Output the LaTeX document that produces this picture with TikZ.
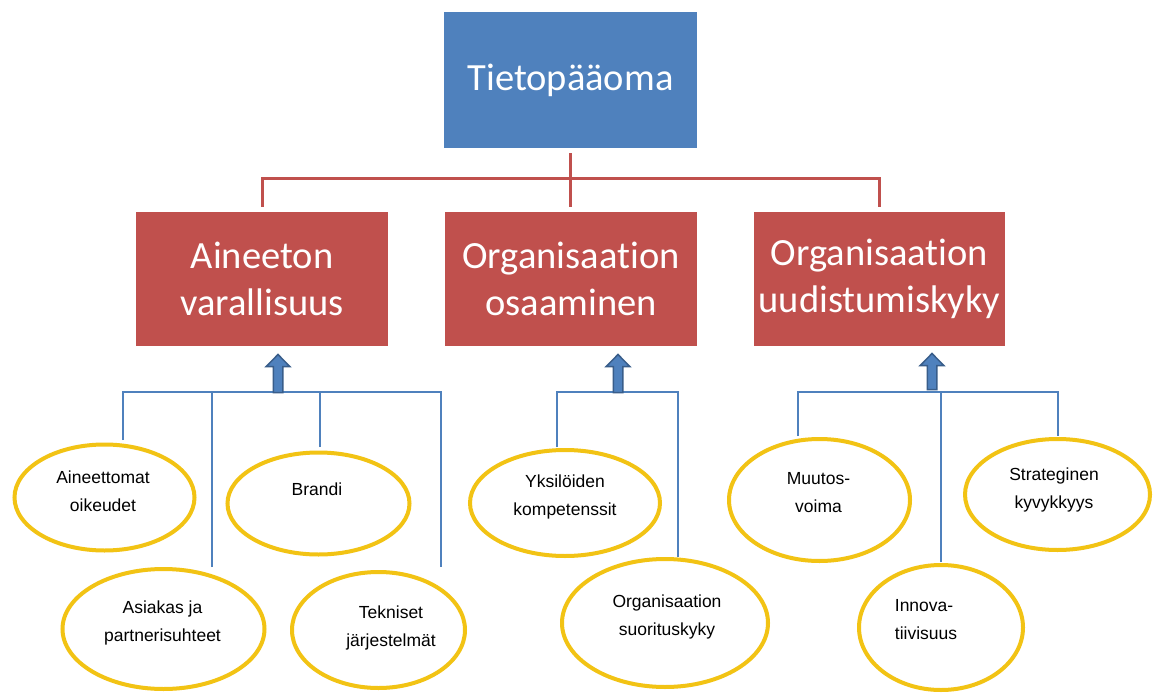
\documentclass[tikz,border=0pt]{standalone}
\usepackage{fontspec}
\setmainfont{Carlito}[Ligatures={NoCommon,NoContextual,NoRequired}]
\newfontfamily\ovalfont{Liberation Sans}
\usetikzlibrary{shapes.geometric}
\definecolor{accblue}{RGB}{79,129,189}
\definecolor{accred}{RGB}{192,80,77}
\definecolor{ringgold}{RGB}{242,195,20}
\definecolor{arrowedge}{RGB}{56,93,138}
\begin{document}
\begin{tikzpicture}[x=1pt,y=-1pt,
  titlebox/.style={rectangle, inner sep=0pt, text=white, align=center,
    font=\fontsize{38.5}{47}\selectfont},
  oval/.style={ellipse, draw=ringgold, line width=4pt, fill=white, inner sep=0pt},
  ovaltext/.style={align=center, inner sep=0pt, text=black,
    font=\ovalfont\fontsize{17.5}{28}\selectfont},
  redln/.style={draw=accred, line width=3pt},
  blueln/.style={draw=accblue, line width=1.6pt},
  blockarrow/.style={draw=arrowedge, fill=accblue, line width=1.5pt, line join=miter}
]
\useasboundingbox (0,0) rectangle (1159,695);
\fill[white] (0,0) rectangle (1159,695);

% top level and second level boxes
\node[titlebox, fill=accblue, minimum width=253pt, minimum height=136pt]
  (top) at (570.5,80) {Tietopääoma};
\node[titlebox, fill=accred, minimum width=252pt, minimum height=134pt]
  (av) at (262,279) {Aineeton\\varallisuus};
\node[titlebox, fill=accred, minimum width=252pt, minimum height=134pt]
  (oo) at (571,279) {Organisaation\\osaaminen};
\node[titlebox, fill=accred, minimum width=251pt, minimum height=134pt]
  (ou) at (879.5,279) {Organisaation\\uudistumiskyky};

% red tree
\coordinate (hub) at (570.5,179);
\draw[redln] ([yshift=-5pt]top.south) -- (hub);
\draw[redln] ([yshift=5pt]av.north) |- (hub) -| ([yshift=5pt]ou.north);
\draw[redln] (hub) -- ([yshift=5pt]hub |- oo.north);

% ellipses
\node[oval, minimum width=180pt, minimum height=106pt] (ao) at (104.5,497.5) {};
\node[oval, minimum width=182pt, minimum height=102pt] (br) at (318.5,503.5) {};
\node[oval, minimum width=202pt, minimum height=120pt] (as) at (163.5,629) {};
\node[oval, minimum width=173pt, minimum height=116pt] (te) at (378.5,630) {};
\node[oval, minimum width=190pt, minimum height=106pt] (yk) at (565,503) {};
\node[oval, minimum width=206pt, minimum height=128pt] (os) at (665,623) {};
\node[oval, minimum width=181pt, minimum height=122pt] (mu) at (819.5,500) {};
\node[oval, minimum width=185pt, minimum height=111pt] (st) at (1057.5,494.5) {};
\node[oval, minimum width=164pt, minimum height=125pt] (in) at (941,627.5) {};

\node[ovaltext] (ao-t) at (103,491) {Aineettomat\\oikeudet};
\node[ovaltext] (br-t) at (317,489) {Brandi};
\node[ovaltext] (as-t) at (162.5,623) {Asiakas ja\\partnerisuhteet};
\node[ovaltext] (te-t) at (391,628) {Tekniset\\järjestelmät};
\node[ovaltext] (yk-t) at (565,497) {Yksilöiden\\kompetenssit};
\node[ovaltext] (os-t) at (667,617) {Organisaation\\suorituskyky};
\node[ovaltext] (mu-t) at (818.5,493) {Muutos-\\voima};
\node[ovaltext] (st-t) at (1054,490) {Strateginen\\kyvykkyys};
\node[ovaltext, align=left] (in-t) at (926,620) {Innova-\\tiivisuus};

% blue brackets gathering the ellipses
\coordinate (g1a) at (123,440);  \coordinate (g1b) at (212,567);
\coordinate (g1c) at (320,447);  \coordinate (g1d) at (441,567);
\coordinate (bar1) at (278,392);
\draw[blueln] (g1a) |- (bar1 -| g1d) -- (g1d);
\draw[blueln] (g1b) -- (g1b |- bar1);
\draw[blueln] (g1c) -- (g1c |- bar1);

\coordinate (g2a) at (557,447);  \coordinate (g2b) at (678,557);
\coordinate (bar2) at (618,392);
\draw[blueln] (g2a) |- (bar2 -| g2b) -- (g2b);

\coordinate (g3a) at (798,436);  \coordinate (g3b) at (941,562);
\coordinate (g3c) at (1058,436);
\coordinate (bar3) at (932,392);
\draw[blueln] (g3a) |- (bar3 -| g3c) -- (g3c);
\draw[blueln] (g3b) -- (g3b |- bar3);

% block arrows rising from each bracket to its box
\draw[blockarrow] (bar1) ++(-4.75,0.5) -- ++(0,-26) -- ++(-7,0) -- ++(11.75,-12)
  -- ++(11.75,12) -- ++(-7,0) -- ++(0,26) -- cycle;
\draw[blockarrow] (bar2) ++(-4.75,0.5) -- ++(0,-26) -- ++(-7,0) -- ++(11.75,-12)
  -- ++(11.75,12) -- ++(-7,0) -- ++(0,26) -- cycle;
\draw[blockarrow] (bar3) ++(-4.75,-2.5) -- ++(0,-24) -- ++(-7,0) -- ++(11.75,-12)
  -- ++(11.75,12) -- ++(-7,0) -- ++(0,24) -- cycle;
\end{tikzpicture}
\end{document}
